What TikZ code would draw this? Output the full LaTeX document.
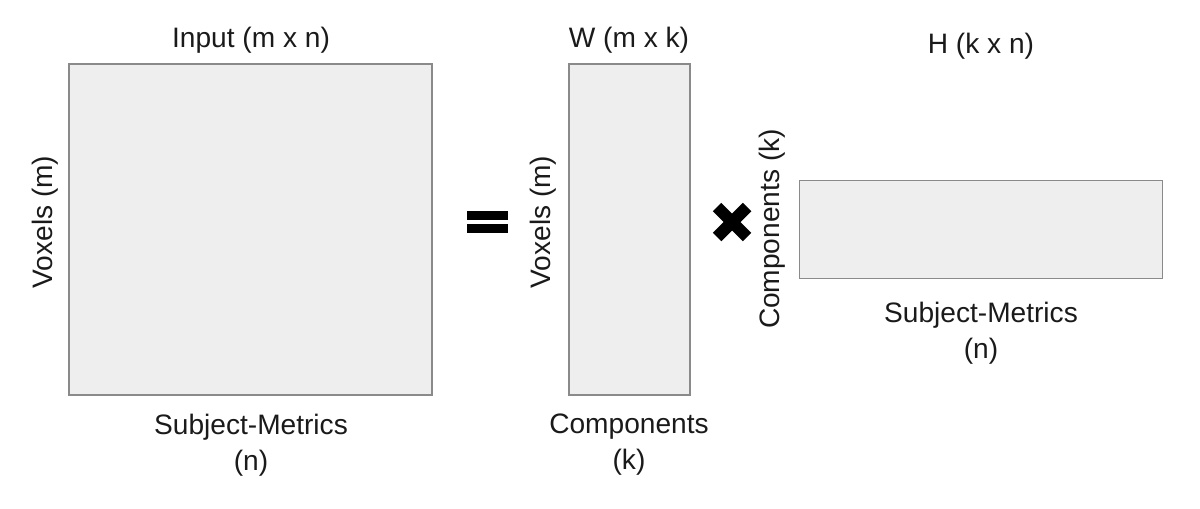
\documentclass[tikz,border=0pt]{standalone}
\usepackage{fontspec}
\setmainfont{Liberation Sans}
\usetikzlibrary{positioning}
\definecolor{MatFill}{HTML}{EEEEEE}
\definecolor{MatEdge}{HTML}{8A8A8A}
\definecolor{InkDark}{HTML}{1A1A1A}

\begin{document}
\begin{tikzpicture}[
    x=0.02cm,y=-0.02cm,
    font=\fontsize{16}{20.5}\selectfont,
    matrixbox/.style={draw=MatEdge,fill=MatFill,line width=0.8pt,inner sep=0pt,outer sep=0pt},
    lbl/.style={text=InkDark,align=center,inner sep=0pt},
    sidelbl/.style={lbl,rotate=90},
    opbar/.style={fill=black,draw=none}
  ]
    \useasboundingbox (0,0) rectangle (1200,508);
    % matrices
    \node[matrixbox,minimum width=7.26cm,minimum height=6.62cm] (input) at (250.5,229.5) {};
    \node[matrixbox,minimum width=2.42cm,minimum height=6.62cm] (wmat) at (629.5,229.5) {};
    \node[matrixbox,minimum width=7.26cm,minimum height=1.96cm] (hmat) at (981,229.5) {};
    % titles
    \node[lbl] (inputtitle) at (251,40) {Input (m x n)};
    \node[lbl] (wtitle) at (629,40) {W (m x k)};
    \node[lbl] (htitle) at (981,46) {H (k x n)};
    % axis labels
    \node[sidelbl] (inputrows) at (45,222) {Voxels (m)};
    \node[lbl] (inputcols) at (251,445) {Subject-Metrics\\(n)};
    \node[sidelbl] (wrows) at (543,222) {Voxels (m)};
    \node[lbl] (wcols) at (629,445) {Components\\(k)};
    \node[sidelbl] (hrows) at (772,229) {Components (k)};
    \node[lbl] (hcols) at (981,333) {Subject-Metrics\\(n)};
    % operators
    \coordinate (eqsign) at (487,222);
    \fill[opbar] ([shift={(-20.5,-11)}]eqsign) rectangle ([shift={(20.5,-2)}]eqsign);
    \fill[opbar] ([shift={(-20.5,2)}]eqsign) rectangle ([shift={(20.5,11)}]eqsign);
    \coordinate (timessign) at (732,222);
    \draw[line width=0.24cm] ([shift={(-15,-15)}]timessign) -- ([shift={(15,15)}]timessign);
    \draw[line width=0.24cm] ([shift={(-15,15)}]timessign) -- ([shift={(15,-15)}]timessign);
  \end{tikzpicture}
\end{document}
